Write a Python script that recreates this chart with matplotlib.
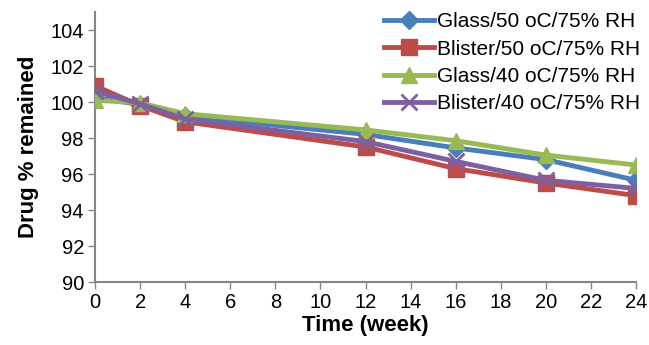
import matplotlib
matplotlib.use("Agg")
import matplotlib.pyplot as plt

weeks = [0, 2, 4, 12, 16, 20, 24]
glass50 = [100.25, 99.85, 99.2, 98.2, 97.45, 96.8, 95.65]
blister50 = [100.9, 99.8, 98.9, 97.5, 96.3, 95.5, 94.8]
glass40 = [100.1, 99.95, 99.35, 98.45, 97.85, 97.05, 96.5]
blister40 = [100.6, 99.9, 99.05, 97.8, 96.7, 95.65, 95.2]

labels = ["Glass/50 oC/75% RH", "Blister/50 oC/75% RH",
          "Glass/40 oC/75% RH", "Blister/40 oC/75% RH"]
xticks = list(range(0, 25, 2))
yticks = list(range(90, 105, 2))

plt.rcParams['font.family'] = ['Liberation Sans', 'DejaVu Sans']

fig = plt.figure(figsize=(6.49, 3.45), dpi=100)
ax = fig.add_axes([0.1464, 0.1826, 0.8336, 0.7826])

styles = [
    dict(color="#4A7EBB", marker="D", markersize=9),
    dict(color="#BE4B48", marker="s", markersize=11),
    dict(color="#98B954", marker="^", markersize=12),
    dict(color="#7D60A0", marker="x", markersize=11, markeredgewidth=2),
]
for data, lab, st in zip([glass50, blister50, glass40, blister40], labels, styles):
    ax.plot(weeks, data, label=lab, linewidth=3.5, **st)

ax.set_xlim(0, 24)
ax.set_ylim(90, 105)
ax.set_xticks(xticks)
ax.set_yticks(yticks)
ax.tick_params(axis='both', labelsize=14.5, colors='#868686', labelcolor='black',
               direction='out', length=5, width=1, pad=3)
for s in ['top', 'right']:
    ax.spines[s].set_visible(False)
for s in ['left', 'bottom']:
    ax.spines[s].set_color('#868686')
    ax.spines[s].set_linewidth(1.5)
    ax.spines[s].set_zorder(0)
ax.set_xlabel("Time (week)", fontsize=16, fontweight='bold', labelpad=2)
ax.set_ylabel("Drug % remained", fontsize=16, fontweight='bold', labelpad=8)

leg = ax.legend(loc='upper right', bbox_to_anchor=(1.03, 1.045), frameon=False,
                fontsize=15, handlelength=2.4, handletextpad=0.15, labelspacing=0.4,
                borderaxespad=0.2)

fig.savefig("out.png", dpi=100)
